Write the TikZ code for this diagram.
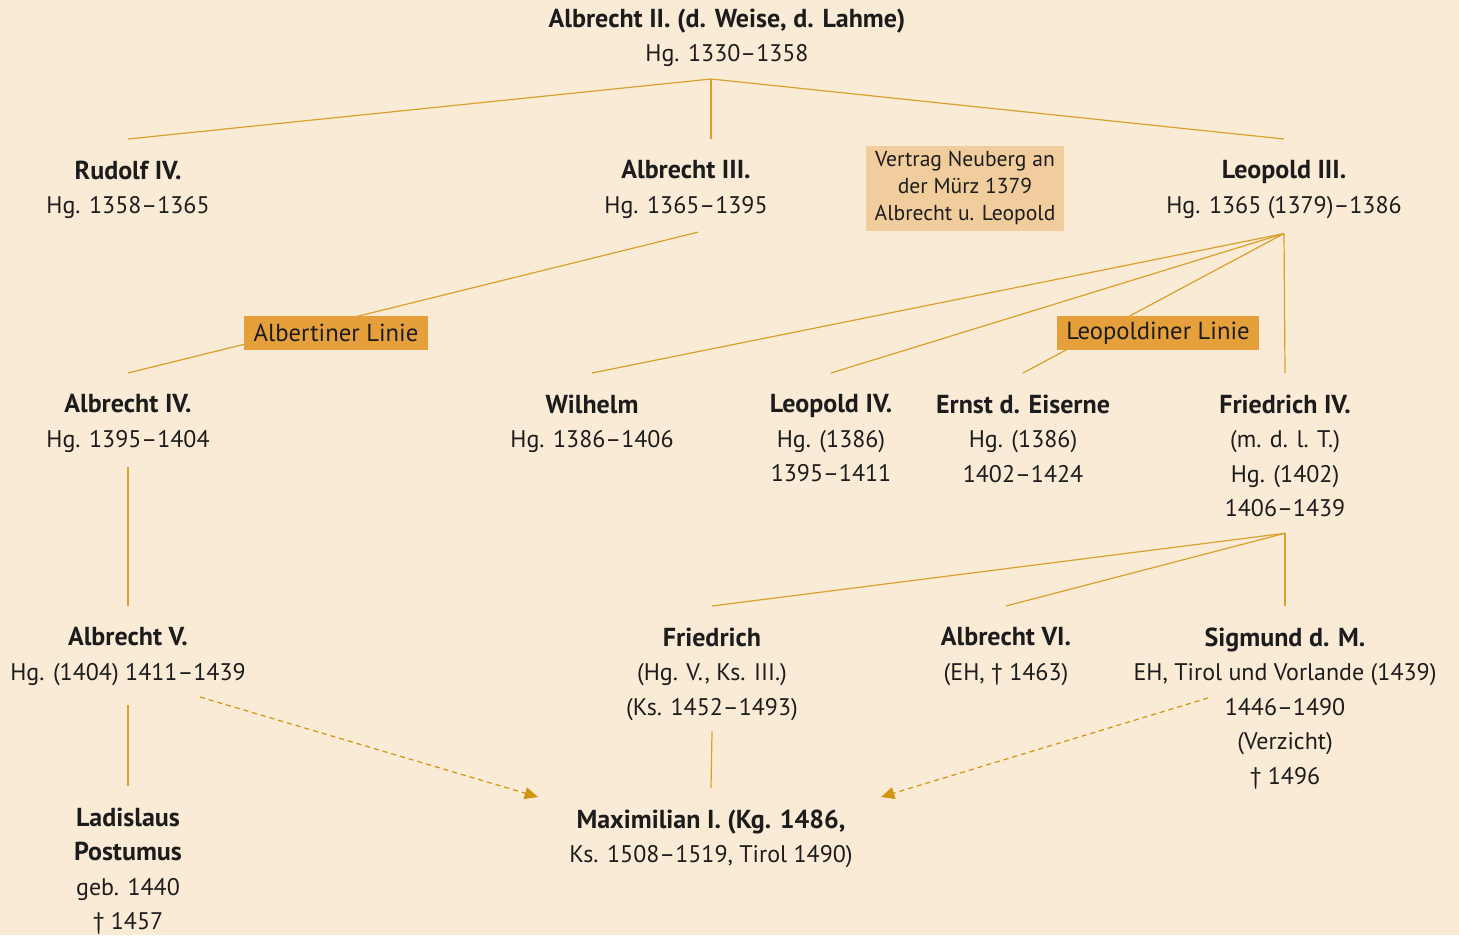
\documentclass[tikz,border=0pt]{standalone}
\usepackage{fontspec}
\setmainfont{PT Sans}
\usepackage{tikz}
\usetikzlibrary{arrows.meta}
\definecolor{bgcream}{HTML}{FAEBD7}
\definecolor{linegold}{HTML}{D9A02C}
\definecolor{arrowgold}{HTML}{CF9410}
\definecolor{labelorange}{HTML}{E5A03C}
\definecolor{notebeige}{HTML}{F1CD9E}
\definecolor{inkdark}{HTML}{1C1C1C}
\newcommand\ruler[1]{{\fontsize{19.5}{25.9}\selectfont\bfseries #1}}

\begin{document}
\begin{tikzpicture}[x=0.75pt,y=-0.75pt, text=inkdark,
    person/.style={align=center, anchor=north, inner xsep=0pt, inner ysep=16pt,
        font=\fontsize{18}{25.9}\selectfont},
    linebox/.style={fill=labelorange, inner xsep=7pt, inner ysep=0pt, minimum height=25.5pt,
        font=\fontsize{18.5}{25.9}\selectfont},
    notebox/.style={fill=notebeige, align=center, inner xsep=6pt, inner ysep=0pt,
        minimum width=148.5pt, minimum height=63.75pt, font=\fontsize{16.2}{19.9}\selectfont},
    stem/.style={draw=linegold, line width=0.9pt},
    transfer/.style={draw=arrowgold, line width=0.9pt, dash pattern=on 3.8pt off 3pt,
        -{Triangle[length=10pt,width=9pt]}}]
    \useasboundingbox (0,0) rectangle (1459,935);
    \fill[bgcream] (0,0) rectangle (1459,935);
    % generation 1
    \node[person] (albrecht2) at (727,-13) {\ruler{Albrecht II. (d. Weise, d. Lahme)}\\Hg. 1330–1358};
    \coordinate (fork1) at (711,79);
    % generation 2
    \node[person] (rudolf4) at (128,139) {\ruler{Rudolf IV.}\\Hg. 1358–1365};
    \node[person] (albrecht3) at (686,139) {\ruler{Albrecht III.}\\Hg. 1365–1395};
    \node[person] (leopold3) at (1284,139) {\ruler{Leopold III.}\\Hg. 1365 (1379)–1386};
    \node[notebox] (vertrag) at (965,188) {Vertrag Neuberg an\\der Mürz 1379\\Albrecht u. Leopold};
    % generation 3
    \node[person] (albrecht4) at (128,373) {\ruler{Albrecht IV.}\\Hg. 1395–1404};
    \node[person] (wilhelm) at (592,373) {\ruler{Wilhelm}\\Hg. 1386–1406};
    \node[person] (leopold4) at (831,373) {\ruler{Leopold IV.}\\Hg. (1386)\\1395–1411};
    \node[person] (ernst) at (1023,373) {\ruler{Ernst d. Eiserne}\\Hg. (1386)\\1402–1424};
    \node[person] (friedrich4) at (1285,373) {\ruler{Friedrich IV.}\\(m. d. l. T.)\\Hg. (1402)\\1406–1439};
    % generation 4
    \node[person] (albrecht5) at (128,606) {\ruler{Albrecht V.}\\Hg. (1404) 1411–1439};
    \node[person] (friedrich) at (712,606) {\ruler{Friedrich}\\(Hg. V., Ks. III.)\\(Ks. 1452–1493)};
    \node[person] (albrecht6) at (1006,606) {\ruler{Albrecht VI.}\\(EH, † 1463)};
    \node[person] (sigmund) at (1285,606) {\ruler{Sigmund d. M.}\\EH, Tirol und Vorlande (1439)\\1446–1490\\(Verzicht)\\† 1496};
    % generation 5
    \node[person] (ladislaus) at (128,786) {\ruler{Ladislaus}\\\ruler{Postumus}\\geb. 1440\\† 1457};
    \node[person] (maximilian) at (711,788) {\ruler{Maximilian I. (Kg. 1486,}\\Ks. 1508–1519, Tirol 1490)};
    % descent
    \draw[stem] (fork1) -- (rudolf4.north);
    \draw[stem] (fork1) -- (fork1 |- albrecht3.north);
    \draw[stem] (fork1) -- (leopold3.north);
    \draw[stem] ([xshift=9pt,yshift=6pt]albrecht3.south) -- (albrecht4.north);
    \draw[stem] ([yshift=5pt]leopold3.south) -- (wilhelm.north);
    \draw[stem] ([yshift=5pt]leopold3.south) -- (leopold4.north);
    \draw[stem] ([yshift=5pt]leopold3.south) -- (ernst.north);
    \draw[stem] ([yshift=5pt]leopold3.south) -- (friedrich4.north);
    \draw[stem] ([yshift=5pt]albrecht4.south) -- (albrecht5.north);
    \draw[stem] ([yshift=4pt]friedrich4.south) -- (friedrich.north);
    \draw[stem] ([yshift=4pt]friedrich4.south) -- (albrecht6.north);
    \draw[stem] ([yshift=4pt]friedrich4.south) -- (sigmund.north);
    \draw[stem] ([yshift=1.5pt]albrecht5.south) -- (ladislaus.north);
    \draw[stem] ([yshift=8pt]friedrich.south) -- (maximilian.north);
    % lines of the house
    \node[linebox] (albertiner) at (336,333) {Albertiner Linie};
    \node[linebox] (leopoldiner) at (1158,333) {Leopoldiner Linie};
    % inheritance
    \coordinate (a5out) at (200,697);
    \coordinate (sgout) at (1208,698);
    \coordinate (maxleft) at (538,797);
    \coordinate (maxright) at (881,797);
    \draw[transfer] (a5out) -- (maxleft);
    \draw[transfer] (sgout) -- (maxright);
\end{tikzpicture}
\end{document}
